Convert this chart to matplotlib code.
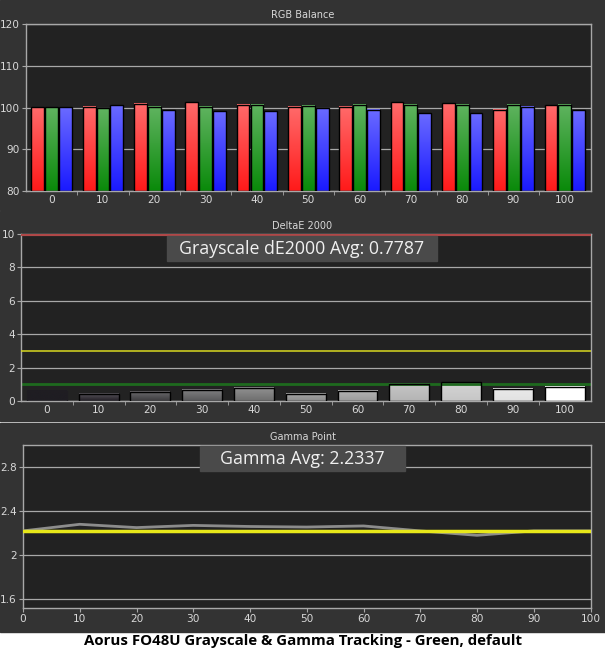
import numpy as np
import matplotlib
matplotlib.use("Agg")
import matplotlib.pyplot as plt
from matplotlib.patches import Rectangle
from matplotlib.colors import to_rgb

# ---------------------------------- data ----------------------------------- #
levels = [0, 10, 20, 30, 40, 50, 60, 70, 80, 90, 100]
red_vals = [100.1, 100.2, 100.9, 101.2, 100.7, 100.2, 100.2, 101.2, 101.0, 99.5, 100.5]
green_vals = [100.1, 99.8, 100.2, 100.2, 100.7, 100.4, 100.7, 100.7, 100.7, 100.7, 100.7]
blue_vals = [100.1, 100.5, 99.4, 99.1, 99.1, 99.8, 99.5, 98.6, 98.6, 100.2, 99.4]

de_vals = [0.6, 0.42, 0.55, 0.67, 0.80, 0.42, 0.61, 1.03, 1.12, 0.74, 0.86]
de_colors = ["#1f1d22", "#221e26", "#3c3a3e", "#58585a", "#6e6e6e", "#8a8a8a",
             "#9c9c9c", "#b4b4b4", "#c6c6c6", "#e2e2e2", "#ffffff"]
de_avg_text = "Grayscale dE2000 Avg: 0.7787"

gamma_x = [0, 10, 20, 30, 40, 50, 60, 70, 80, 90, 100]
gamma_vals = [2.22, 2.28, 2.25, 2.27, 2.26, 2.255, 2.265, 2.22, 2.18, 2.22, 2.22]
gamma_target = 2.22
gamma_avg_text = "Gamma Avg: 2.2337"

title = "Aorus FO48U Grayscale & Gamma Tracking - Green, default"

# --------------------------------- styles ---------------------------------- #
W, H = 605, 652
panel_bg = "#333333"
plot_bg = "#222222"
grid_col = "#a8a8a8"
text_col = "#d8d8d8"


def fx(px):
    return px / W


def fy(py):
    return 1 - py / H


def grad_bar(ax, bar, color, light=0.35):
    c = np.array(to_rgb(color))
    top = c + (1 - c) * light
    n = 64
    t = np.linspace(0, 1, n)[:, None]
    img = (top * (1 - t) + c * t)[:, None, :]
    x0, y0 = bar.get_x(), bar.get_y()
    ax.imshow(img, extent=(x0, x0 + bar.get_width(), y0, y0 + bar.get_height()),
              origin="upper", aspect="auto", zorder=2, interpolation="bilinear")


def style_axes(ax):
    ax.set_facecolor(plot_bg)
    for s in ax.spines.values():
        s.set_color(grid_col)
        s.set_linewidth(1.0)
    ax.tick_params(colors=grid_col, labelcolor=text_col, labelsize=7.6, length=3,
                   width=0.8, pad=1.5)
    ax.grid(axis="y", color=grid_col, linewidth=0.9, zorder=1)
    ax.set_axisbelow(True)


fig = plt.figure(figsize=(W / 100, H / 100), dpi=100, facecolor="white")
plt.rcParams["font.family"] = ["DejaVu Sans"]

# panel backgrounds
for y0, y1 in [(0, 209.5), (211.5, 420.5), (422.5, 632)]:
    fig.patches.append(Rectangle((0, fy(y1)), 1, fy(y0) - fy(y1),
                                 transform=fig.transFigure, color=panel_bg, zorder=-5))

x = np.arange(len(levels))

# ------------------------------ RGB Balance -------------------------------- #
ax1 = fig.add_axes([fx(26), fy(191), fx(590.5) - fx(26), fy(24) - fy(191)])
style_axes(ax1)
bw = 0.25
off = 0.27
base = 80
for vals, col, shift in [(red_vals, "#ff1a1a", -off), (green_vals, "#0a8a0a", 0),
                         (blue_vals, "#1a1aff", off)]:
    bars = ax1.bar(x + shift, np.array(vals) - base, bw, bottom=base,
                   facecolor="none", edgecolor="black", linewidth=1.0, zorder=3)
    for b in bars:
        grad_bar(ax1, b, col, 0.35)
ax1.set_xlim(-0.5, len(levels) - 0.5)
ax1.set_ylim(80, 120)
ax1.set_yticks([80, 90, 100, 110, 120])
ax1.set_xticks(x)
ax1.set_xticklabels([str(v) for v in levels])
ax1.set_xticks(x[:-1] + 0.5, minor=True)
ax1.tick_params(axis="x", which="major", length=0, pad=3)
ax1.tick_params(axis="x", which="minor", length=3, color=grid_col)
fig.text(0.5, fy(15), "RGB Balance", color=text_col, fontsize=7, ha="center", va="center")

# ------------------------------ DeltaE 2000 -------------------------------- #
ax2 = fig.add_axes([fx(21), fy(401), fx(590.5) - fx(21), fy(234) - fy(401)])
style_axes(ax2)
bars = ax2.bar(x, de_vals, 0.77, facecolor="none", edgecolor="black",
               linewidth=1.0, zorder=3)
for b, c in zip(bars, de_colors):
    grad_bar(ax2, b, c, 0.25 if c != de_colors[0] else 0.0)
bars[0].set_edgecolor(de_colors[0])
ax2.axhline(10, color="#b04848", linewidth=3, zorder=4)
ax2.axhline(3, color="#d8d820", linewidth=1.1, zorder=4)
ax2.axhline(1, color="#1e6a1e", linewidth=2, zorder=2.5)
ax2.set_xlim(-0.5, len(levels) - 0.5)
ax2.set_ylim(0, 10)
ax2.set_yticks([0, 2, 4, 6, 8, 10])
ax2.set_xticks(x)
ax2.set_xticklabels([str(v) for v in levels])
ax2.set_xticks(x[:-1] + 0.5, minor=True)
ax2.tick_params(axis="x", which="major", length=0, pad=3)
ax2.tick_params(axis="x", which="minor", length=3, color=grid_col)
fig.text(0.5, fy(226), "DeltaE 2000", color=text_col, fontsize=7, ha="center", va="center")
fig.patches.append(Rectangle((fx(167), fy(261)), fx(437) - fx(167), fy(236) - fy(261),
                             transform=fig.transFigure, color="#4a4a4a", zorder=5))
fig.text(fx(302), fy(248.5), de_avg_text, color="#f0f0f0", fontsize=12.8,
         family="Open Sans", ha="center", va="center", zorder=6)

# ------------------------------ Gamma Point -------------------------------- #
ax3 = fig.add_axes([fx(23), fy(608), fx(590.5) - fx(23), fy(445) - fy(608)])
style_axes(ax3)
ax3.plot(gamma_x, gamma_vals, color="#8c8c8c", linewidth=2.0, zorder=3)
ax3.axhline(gamma_target, color="#e8e81a", linewidth=2.5, zorder=4)
ax3.set_xlim(0, 100)
ax3.set_ylim(1.52, 3.0)
ax3.set_yticks([1.6, 2.0, 2.4, 2.8])
ax3.set_yticklabels(["1.6", "2", "2.4", "2.8"])
ax3.set_xticks(gamma_x)
fig.text(0.5, fy(437), "Gamma Point", color=text_col, fontsize=7, ha="center", va="center")
fig.patches.append(Rectangle((fx(200), fy(471)), fx(405) - fx(200), fy(446) - fy(471),
                             transform=fig.transFigure, color="#4a4a4a", zorder=5))
fig.text(fx(302.5), fy(458.5), gamma_avg_text, color="#f0f0f0", fontsize=12.8,
         family="Open Sans", ha="center", va="center", zorder=6)

# bottom caption
fig.text(0.5, fy(641.5), title, color="black", fontsize=10.8, fontweight="bold",
         family="Open Sans", ha="center", va="center")

fig.savefig("out.png", dpi=100, facecolor=fig.get_facecolor())
